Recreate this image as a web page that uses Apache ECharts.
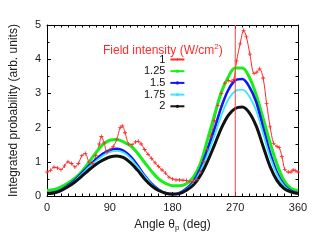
<!DOCTYPE html>
<html>
<head>
<meta charset="utf-8">
<script src="https://cdn.jsdelivr.net/npm/echarts@6/dist/echarts.min.js"></script>
<style>
html,body{margin:0;padding:0;background:#fff;}
#chart{width:327px;height:245px;}
</style>
</head>
<body>
<div id="chart"></div>
<script>
// ---- data ----
var seriesNames = ['1', '1.25', '1.5', '1.75', '2'];
var xTicks = [0, 90, 180, 270, 360];
var yTicks = [0, 1, 2, 3, 4, 5];

// intensity 1 (noisy red curve)
var redAngles = [0,5,10,15,20,25,30,35,40,45,50,55,60,65,70,75,78,82,86,90,95,100,105,108,112,117,122,127,131,135,140,145,150,155,160,165,170,175,180,185,190,195,200,205,210,215,220,225,230,235,240,245,250,255,260,265,268,272,277,282,286,291,297,301,305,310,315,320,325,330,333,337,341,346,350,353,356,360];
var redValues = [0.70,0.75,0.84,0.82,0.77,0.88,1.00,0.95,0.85,0.95,1.18,1.24,1.00,0.95,1.18,1.52,1.74,1.55,1.28,1.35,1.45,1.65,2.00,2.05,1.85,1.52,1.50,1.58,1.60,1.52,1.36,1.22,1.10,0.97,0.86,0.76,0.67,0.55,0.50,0.47,0.47,0.46,0.45,0.42,0.42,0.48,0.70,1.00,1.35,1.75,2.20,2.65,3.00,3.30,3.38,3.35,3.40,3.95,4.45,4.84,4.65,4.15,3.58,3.62,3.72,3.45,2.70,2.02,1.54,1.45,1.42,1.15,0.78,0.70,0.70,0.76,0.74,0.70];

// smooth curves, sampled every 10 degrees
var angles = [0,10,20,30,40,50,60,70,80,90,100,110,120,130,140,150,160,170,180,190,200,210,220,230,240,250,260,270,280,290,300,310,320,330,340,350,360];
var green125 = [0.16,0.19,0.27,0.38,0.52,0.72,0.98,1.26,1.50,1.63,1.65,1.58,1.47,1.25,0.98,0.72,0.50,0.37,0.30,0.30,0.36,0.55,0.95,1.63,2.35,3.03,3.48,3.74,3.74,3.48,2.96,2.27,1.56,0.92,0.45,0.22,0.16];
var blue150 = [0.08,0.11,0.18,0.31,0.47,0.67,0.88,1.07,1.23,1.34,1.38,1.32,1.15,0.89,0.60,0.36,0.19,0.09,0.06,0.09,0.22,0.42,0.80,1.35,1.95,2.60,3.10,3.38,3.42,3.20,2.75,2.00,1.25,0.68,0.32,0.15,0.09];
var cyan175 = [0.08,0.10,0.17,0.29,0.45,0.64,0.84,1.02,1.18,1.28,1.32,1.27,1.10,0.85,0.58,0.35,0.18,0.09,0.06,0.08,0.20,0.38,0.72,1.20,1.75,2.35,2.82,3.07,3.11,2.92,2.50,1.82,1.13,0.62,0.30,0.14,0.09];
var black200 = [0.07,0.09,0.16,0.27,0.41,0.58,0.76,0.92,1.05,1.14,1.17,1.12,0.97,0.75,0.50,0.30,0.16,0.08,0.05,0.07,0.17,0.32,0.60,1.00,1.48,1.98,2.36,2.56,2.60,2.44,2.05,1.45,0.86,0.45,0.22,0.12,0.07];
var markerAngle = 270;

function pairs(xs, ys) { return xs.map(function (x, i) { return [x, ys[i]]; }); }

var plusPath = 'path://M4,0h2v4h4v2h-4v4h-2v-4h-4v-2h4z';
var font = 'Liberation Sans, Arial, sans-serif';

var chart = echarts.init(document.getElementById('chart'), null, {renderer: 'canvas'});

function lineSeries(name, data, color, width, symbol, symbolSize, showSym) {
  return {
    name: name, type: 'line', data: data, xAxisIndex: 0, yAxisIndex: 0,
    smooth: 0.35, symbol: symbol, symbolSize: symbolSize, showSymbol: showSym,
    lineStyle: {color: color, width: width}, itemStyle: {color: color},
    emphasis: {disabled: true}, animation: false
  };
}

var red = lineSeries(seriesNames[0], pairs(redAngles, redValues), '#ff2a2a', 1, plusPath, 4, true);
red.smooth = 0.3;

// vertical reference line at 270 degrees spanning the y-range
var refLine = {
  name: 'ref', type: 'line', xAxisIndex: 0, yAxisIndex: 0,
  data: [[markerAngle, yTicks[0]], [markerAngle, yTicks[yTicks.length - 1]]],
  showSymbol: false, symbol: 'none', silent: true, z: 3,
  lineStyle: {color: '#ff4040', width: 1}, itemStyle: {color: '#ff4040'},
  emphasis: {disabled: true}, animation: false
};

var option = {
  animation: false,
  backgroundColor: '#fff',
  title: {
    text: 'Field intensity (W/cm{sup|2})',
    left: 103, top: 43, padding: 0,
    textStyle: {
      fontFamily: font, fontSize: 12, fontWeight: 'normal', color: '#ff2a2a',
      rich: {sup: {fontFamily: font, fontSize: 8, color: '#ff2a2a', padding: [0, 0, 7, 0]}}
    }
  },
  legend: {
    orient: 'vertical', align: 'right', left: 144, top: 54, padding: 0,
    itemWidth: 14, itemHeight: 4, itemGap: 0.7,
    textStyle: {fontFamily: font, fontSize: 11, color: '#111', lineHeight: 11},
    data: seriesNames
  },
  grid: {left: 47, right: 29, top: 25, bottom: 49, containLabel: false},
  xAxis: [{
    type: 'value', min: xTicks[0], max: xTicks[xTicks.length - 1], interval: 90,
    name: 'Angle θ{sub|p} (deg)', nameLocation: 'middle', nameGap: 21,
    nameTextStyle: {fontFamily: font, fontSize: 12, color: '#222',
      rich: {sub: {fontFamily: font, fontSize: 8, color: '#222', padding: [7, 0, 0, 0]}}},
    axisLine: {show: true, onZero: false, lineStyle: {color: '#000', width: 1}},
    axisTick: {show: true, inside: true, length: 4, lineStyle: {color: '#000'}},
    minorTick: {show: true, splitNumber: 9, length: 2.5, lineStyle: {color: '#000'}},
    axisLabel: {fontFamily: font, fontSize: 11, color: '#222', margin: 6},
    splitLine: {show: false}
  }, {
    type: 'value', position: 'top', min: xTicks[0], max: xTicks[xTicks.length - 1], interval: 90,
    axisLine: {show: true, onZero: false, lineStyle: {color: '#000', width: 1}},
    axisTick: {show: true, inside: true, length: 4, lineStyle: {color: '#000'}},
    minorTick: {show: true, splitNumber: 9, length: 2.5, lineStyle: {color: '#000'}},
    axisLabel: {show: false}, splitLine: {show: false}
  }],
  yAxis: [{
    type: 'value', min: yTicks[0], max: yTicks[yTicks.length - 1], interval: 1,
    name: 'Integrated probability (arb. units)', nameLocation: 'middle', nameGap: 27,
    nameTextStyle: {fontFamily: font, fontSize: 12, color: '#222'},
    axisLine: {show: true, onZero: false, lineStyle: {color: '#000', width: 1}},
    axisTick: {show: true, inside: true, length: 4, lineStyle: {color: '#000'}},
    minorTick: {show: true, splitNumber: 2, length: 2.5, lineStyle: {color: '#000'}},
    axisLabel: {fontFamily: font, fontSize: 11, color: '#222', margin: 6},
    splitLine: {show: false}
  }, {
    type: 'value', position: 'right', min: yTicks[0], max: yTicks[yTicks.length - 1], interval: 1,
    axisLine: {show: true, onZero: false, lineStyle: {color: '#000', width: 1}},
    axisTick: {show: true, inside: true, length: 4, lineStyle: {color: '#000'}},
    minorTick: {show: true, splitNumber: 2, length: 2.5, lineStyle: {color: '#000'}},
    axisLabel: {show: false}, splitLine: {show: false}
  }],
  series: [
    red,
    lineSeries(seriesNames[1], pairs(angles, green125), '#18ee18', 3, 'circle', 3, false),
    lineSeries(seriesNames[2], pairs(angles, blue150), '#1414f0', 2.6, 'circle', 3, false),
    lineSeries(seriesNames[3], pairs(angles, cyan175), '#3ce6ff', 1.8, 'circle', 3, false),
    lineSeries(seriesNames[4], pairs(angles, black200), '#111111', 3, 'circle', 3, false),
    refLine
  ]
};
chart.setOption(option);
</script>
</body>
</html>
